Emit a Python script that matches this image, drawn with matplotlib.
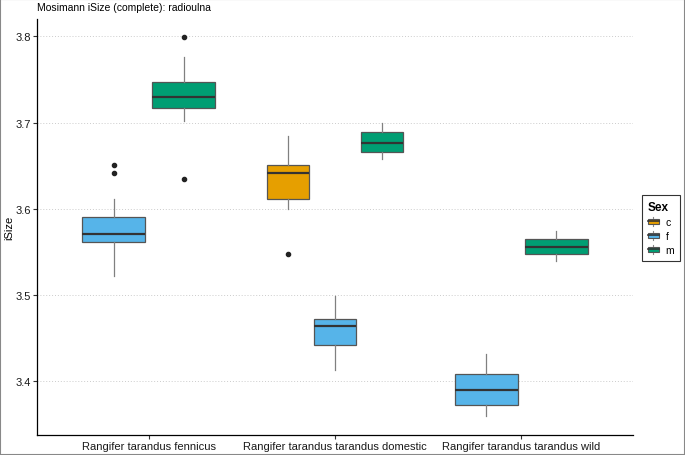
import numpy as np
import matplotlib.pyplot as plt
from matplotlib.patches import Rectangle
from matplotlib.lines import Line2D
from matplotlib.legend_handler import HandlerBase

plt.rcParams['font.family'] = ['Liberation Sans', 'DejaVu Sans']

species = ['Rangifer tarandus fennicus',
           'Rangifer tarandus tarandus domestic',
           'Rangifer tarandus tarandus wild']
sexes = ['c', 'f', 'm']
sex_colors = ['#E69F00', '#56B4E9', '#009E73']

# one entry per box
grp_species = [0, 0, 1, 1, 1, 2, 2]
grp_sex = ['f', 'm', 'c', 'f', 'm', 'f', 'm']
whis_lo = [3.522, 3.702, 3.600, 3.413, 3.658, 3.360, 3.539]
q1 = [3.562, 3.717, 3.611, 3.442, 3.666, 3.373, 3.547]
median = [3.571, 3.729, 3.642, 3.464, 3.676, 3.390, 3.556]
q3 = [3.591, 3.747, 3.651, 3.472, 3.689, 3.408, 3.565]
whis_hi = [3.611, 3.776, 3.684, 3.499, 3.699, 3.432, 3.574]
outliers = [[3.641, 3.651], [3.634, 3.799], [3.548], [], [], [], []]

y_ticks = [3.4, 3.5, 3.6, 3.7, 3.8]


class BoxKey(HandlerBase):
    # ggplot-like boxplot legend glyph
    def create_artists(self, legend, orig_handle, xdescent, ydescent,
                       width, height, fontsize, trans):
        x0, y0 = -xdescent, -ydescent
        cx = x0 + width / 2
        fc = orig_handle.get_facecolor()
        box = Rectangle((x0, y0 + 0.22 * height), width, 0.56 * height,
                        facecolor=fc, edgecolor='#555555', lw=0.8, transform=trans)
        med = Line2D([x0, x0 + width], [y0 + height / 2] * 2, color='#333333',
                     lw=1.2, transform=trans)
        w1 = Line2D([cx, cx], [y0, y0 + 0.22 * height], color='#888888', lw=0.8,
                    transform=trans)
        w2 = Line2D([cx, cx], [y0 + 0.78 * height, y0 + height], color='#888888',
                    lw=0.8, transform=trans)
        return [w1, w2, box, med]


fig = plt.figure(figsize=(6.85, 4.56), dpi=100)
ax = fig.add_axes([37 / 685, 1 - 436 / 456, 596 / 685, 416 / 456])

for sp in range(len(species)):
    idx = [i for i in range(len(grp_species)) if grp_species[i] == sp]
    n = len(idx)
    slot = 0.75 / n
    for k, i in enumerate(idx):
        pos = sp + 1 + (k - (n - 1) / 2) * slot
        stats = [{'med': median[i], 'q1': q1[i], 'q3': q3[i],
                  'whislo': whis_lo[i], 'whishi': whis_hi[i],
                  'fliers': outliers[i]}]
        col = sex_colors[sexes.index(grp_sex[i])]
        ax.bxp(stats, positions=[pos], widths=0.9 * slot, patch_artist=True,
               showcaps=False,
               boxprops=dict(facecolor=col, edgecolor='#555555', lw=0.9),
               medianprops=dict(color='#333333', lw=1.6),
               whiskerprops=dict(color='#808080', lw=0.9),
               flierprops=dict(marker='o', markersize=3, markerfacecolor='#222222',
                               markeredgecolor='#222222'),
               zorder=3)

ax.set_xlim(0.4, 3.6)
ax.set_ylim(3.3377, 3.82)
ax.set_xticks([1, 2, 3])
ax.set_xticklabels(species)
ax.set_yticks(y_ticks)
ax.set_yticklabels([f'{v:.1f}' for v in y_ticks])
ax.grid(axis='y', color='#cccccc', lw=0.7, ls=(0, (1, 2)))
ax.set_axisbelow(True)

for s in ['top', 'right']:
    ax.spines[s].set_visible(False)
for s in ['left', 'bottom']:
    ax.spines[s].set_color('black')
    ax.spines[s].set_linewidth(0.9)
ax.tick_params(direction='out', length=3, width=0.8, color='#333333',
               labelsize=8, labelcolor='#1a1a1a', pad=1.5)

ax.set_ylabel('iSize', fontsize=8, color='black')
ax.yaxis.set_label_coords(-0.0386, 0.5)

fig.text(37 / 685, 1 - 3 / 456, 'Mosimann iSize (complete): radioulna',
         fontsize=7.5, ha='left', va='top')

handles = [Rectangle((0, 0), 1, 1, facecolor=c) for c in sex_colors]
leg = ax.legend(handles, sexes, title='Sex', handler_map={Rectangle: BoxKey()},
                loc='center left', bbox_to_anchor=(642 / 685, 227 / 456),
                bbox_transform=fig.transFigure, fancybox=False, frameon=True,
                edgecolor='black', fontsize=7.5, handlelength=1.1,
                handleheight=1.0, handletextpad=0.6, labelspacing=0.35,
                borderpad=0.55, borderaxespad=0)
leg.get_title().set_fontweight('bold')
leg.get_title().set_fontsize(8.5)
leg._legend_box.align = 'left'
leg.get_frame().set_linewidth(0.8)

fig.patches.append(Rectangle((0, 0), 1, 1, transform=fig.transFigure, fill=False,
                             edgecolor='#888888', lw=1.5))

fig.savefig('out.png', dpi=100)
